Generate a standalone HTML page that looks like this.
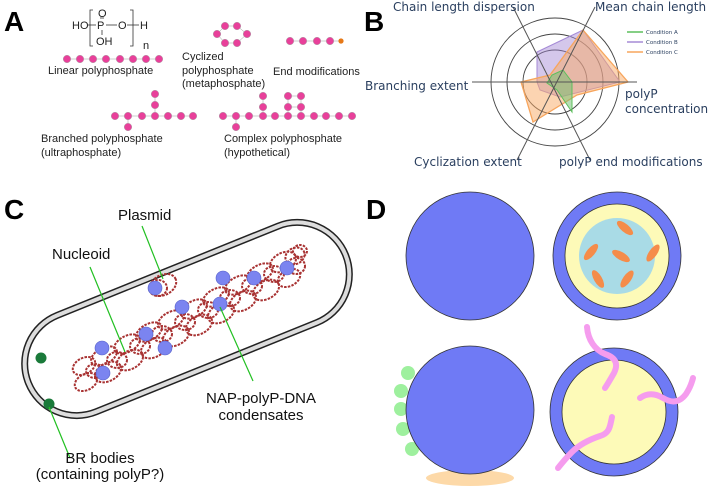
<!DOCTYPE html>
<html><head><meta charset="utf-8"><style>
html,body{margin:0;padding:0;background:#fff}
svg{display:block}
.lab{font-family:"Liberation Sans",Arial,sans-serif;font-weight:bold;font-size:28px;fill:#000}
.a{font-family:"Liberation Sans",Arial,sans-serif;font-size:11px;fill:#222}
.b{font-family:"DejaVu Sans",Verdana,sans-serif;font-size:12px;fill:#2a3f5f}
.c{font-family:"Liberation Sans",Arial,sans-serif;font-size:15px;fill:#111}
</style></head><body>
<svg width="709" height="488" viewBox="0 0 709 488" xmlns="http://www.w3.org/2000/svg">
<!-- Panel A -->
<text class="lab" x="4" y="31">A</text>
<text x="72" y="29" class="a">HO</text>
<text x="97" y="29" class="a">P</text>
<text x="98" y="17" class="a">O</text>
<text x="96" y="45" class="a">OH</text>
<text x="118" y="29" class="a">O</text>
<text x="140" y="29" class="a">H</text>
<text x="143" y="49" class="a">n</text>
<g stroke="#333" stroke-width="0.8" fill="none">
<line x1="87" y1="25" x2="96" y2="25"/><line x1="106" y1="25" x2="117" y2="25"/><line x1="127" y1="25" x2="139" y2="25"/>
<line x1="101" y1="19" x2="101" y2="16"/><line x1="103" y1="19" x2="103" y2="16"/>
<line x1="102" y1="30" x2="102" y2="35"/>
<path d="M93 10 H90 V46 H93"/><path d="M130 10 H133 V46 H130"/>
</g>
<g fill="#e8409a" stroke="#aaa" stroke-width="0.5">
<line x1="67" y1="59" x2="159" y2="59" stroke="#999"/>
<circle cx="67" cy="59" r="3.8"/><circle cx="80" cy="59" r="3.8"/><circle cx="93" cy="59" r="3.8"/><circle cx="106" cy="59" r="3.8"/><circle cx="120" cy="59" r="3.8"/><circle cx="133" cy="59" r="3.8"/><circle cx="146" cy="59" r="3.8"/><circle cx="159" cy="59" r="3.8"/>
<polygon points="225,26 237,26 247,34 237,43 225,43 217,34" fill="none" stroke="#999"/>
<circle cx="225" cy="26" r="3.8"/><circle cx="237" cy="26" r="3.8"/><circle cx="217" cy="34" r="3.8"/><circle cx="247" cy="34" r="3.8"/><circle cx="225" cy="43" r="3.8"/><circle cx="237" cy="43" r="3.8"/>
<line x1="290" y1="41" x2="341" y2="41" stroke="#999"/>
<circle cx="290" cy="41" r="3.8"/><circle cx="303" cy="41" r="3.8"/><circle cx="317" cy="41" r="3.8"/><circle cx="330" cy="41" r="3.8"/>
<circle cx="341" cy="41" r="2.6" fill="#e67817" stroke="none"/>
<line x1="115" y1="116" x2="192" y2="116" stroke="#999"/><line x1="155" y1="94" x2="155" y2="116" stroke="#999"/><line x1="128" y1="116" x2="128" y2="127" stroke="#999"/>
<circle cx="115" cy="116" r="3.8"/><circle cx="128" cy="116" r="3.8"/><circle cx="142" cy="116" r="3.8"/><circle cx="155" cy="116" r="3.8"/><circle cx="168" cy="116" r="3.8"/><circle cx="181" cy="116" r="3.8"/><circle cx="193" cy="116" r="3.8"/>
<circle cx="155" cy="105" r="3.8"/><circle cx="155" cy="94" r="3.8"/><circle cx="128" cy="127" r="3.8"/>
<line x1="223" y1="116" x2="352" y2="116" stroke="#999"/><line x1="263" y1="96" x2="263" y2="116" stroke="#999"/><line x1="236" y1="116" x2="236" y2="127" stroke="#999"/>
<rect x="288" y="96" width="13" height="11" fill="none" stroke="#999"/><line x1="288" y1="107" x2="288" y2="116" stroke="#999"/><line x1="301" y1="107" x2="301" y2="116" stroke="#999"/>
<circle cx="223" cy="116" r="3.8"/><circle cx="236" cy="116" r="3.8"/><circle cx="249" cy="116" r="3.8"/><circle cx="263" cy="116" r="3.8"/><circle cx="275" cy="116" r="3.8"/><circle cx="288" cy="116" r="3.8"/><circle cx="301" cy="116" r="3.8"/><circle cx="314" cy="116" r="3.8"/><circle cx="326" cy="116" r="3.8"/><circle cx="339" cy="116" r="3.8"/><circle cx="352" cy="116" r="3.8"/>
<circle cx="263" cy="107" r="3.8"/><circle cx="263" cy="96" r="3.8"/><circle cx="236" cy="127" r="3.8"/>
<circle cx="288" cy="107" r="3.8"/><circle cx="288" cy="96" r="3.8"/><circle cx="301" cy="107" r="3.8"/><circle cx="301" cy="96" r="3.8"/>
</g>
<text class="a" x="48" y="74">Linear polyphosphate</text>
<text class="a" x="182" y="60">Cyclized</text>
<text class="a" x="182" y="74">polyphosphate</text>
<text class="a" x="182" y="87">(metaphosphate)</text>
<text class="a" x="273" y="75">End modifications</text>
<text class="a" x="41" y="142">Branched polyphosphate</text>
<text class="a" x="41" y="156">(ultraphosphate)</text>
<text class="a" x="224" y="142">Complex polyphosphate</text>
<text class="a" x="224" y="156">(hypothetical)</text>

<!-- Panel B -->
<text class="lab" x="364" y="31">B</text>
<g fill="none" stroke="#444" stroke-width="0.9">
<circle cx="555" cy="82" r="32"/><circle cx="555" cy="82" r="48"/><circle cx="555" cy="82" r="64"/>
</g>
<polygon points="583,30 620,82 560,97 540,90 537,82 537,52" fill="rgba(160,130,210,0.45)" stroke="#a58ad6" stroke-width="1"/>
<polygon points="583,30 628,82 577,95 533,122 521,82 550,75" fill="rgba(250,170,100,0.5)" stroke="#f7a55c" stroke-width="1.3"/>
<polygon points="563,70 572,82 572,112 557,90 547,83 552,75" fill="rgba(110,190,110,0.5)" stroke="#5cbf5c" stroke-width="1"/>
<g stroke="#555" stroke-width="1">
<line x1="472" y1="82" x2="637" y2="82"/>
<line x1="513" y1="7" x2="590" y2="160"/>
<line x1="595" y1="7" x2="517" y2="160"/>
</g>
<g stroke-width="1.5">
<line x1="627" y1="32" x2="643" y2="32" stroke="#5cbf5c"/>
<line x1="627" y1="42" x2="643" y2="42" stroke="#a58ad6"/>
<line x1="627" y1="52" x2="643" y2="52" stroke="#f7a55c"/>
</g>
<g font-family="DejaVu Sans,sans-serif" font-size="5.5" fill="#2a3f5f">
<text x="646" y="34">Condition A</text><text x="646" y="44">Condition B</text><text x="646" y="54">Condition C</text>
</g>
<text class="b" x="393" y="11">Chain length dispersion</text>
<text class="b" x="595" y="11">Mean chain length</text>
<text class="b" x="365" y="90">Branching extent</text>
<text class="b" x="625" y="98">polyP</text>
<text class="b" x="625" y="113">concentration</text>
<text class="b" x="414" y="166">Cyclization extent</text>
<text class="b" x="559" y="166">polyP end modifications</text>

<!-- Panel C -->
<text class="lab" x="4" y="219">C</text>
<g transform="translate(187,319) rotate(-22)">
<rect x="-171" y="-52" width="342" height="104" rx="52" fill="none" stroke="#222" stroke-width="7"/>
<rect x="-171" y="-52" width="342" height="104" rx="52" fill="none" stroke="#ddd" stroke-width="4"/>
</g>
<g fill="none" stroke="#a83232" stroke-width="2" stroke-dasharray="2.5 1.2">
<ellipse cx="84" cy="366" rx="12" ry="8" transform="rotate(-28 84 366)"/>
<ellipse cx="86" cy="382" rx="12" ry="8" transform="rotate(-28 86 382)"/>
<ellipse cx="104" cy="356" rx="14" ry="8" transform="rotate(-28 104 356)"/>
<ellipse cx="108" cy="372" rx="14" ry="9" transform="rotate(-28 108 372)"/>
<ellipse cx="127" cy="344" rx="14" ry="8" transform="rotate(-28 127 344)"/>
<ellipse cx="130" cy="360" rx="14" ry="9" transform="rotate(-28 130 360)"/>
<ellipse cx="149" cy="332" rx="14" ry="8" transform="rotate(-28 149 332)"/>
<ellipse cx="154" cy="348" rx="14" ry="9" transform="rotate(-28 154 348)"/>
<ellipse cx="171" cy="320" rx="14" ry="8" transform="rotate(-28 171 320)"/>
<ellipse cx="176" cy="336" rx="14" ry="9" transform="rotate(-28 176 336)"/>
<ellipse cx="194" cy="309" rx="14" ry="8" transform="rotate(-28 194 309)"/>
<ellipse cx="199" cy="325" rx="14" ry="9" transform="rotate(-28 199 325)"/>
<ellipse cx="216" cy="297" rx="14" ry="8" transform="rotate(-28 216 297)"/>
<ellipse cx="221" cy="313" rx="14" ry="9" transform="rotate(-28 221 313)"/>
<ellipse cx="238" cy="285" rx="14" ry="8" transform="rotate(-28 238 285)"/>
<ellipse cx="243" cy="301" rx="14" ry="9" transform="rotate(-28 243 301)"/>
<ellipse cx="260" cy="273" rx="14" ry="8" transform="rotate(-28 260 273)"/>
<ellipse cx="266" cy="290" rx="14" ry="9" transform="rotate(-28 266 290)"/>
<ellipse cx="283" cy="262" rx="14" ry="9" transform="rotate(-28 283 262)"/>
<ellipse cx="289" cy="278" rx="12" ry="8" transform="rotate(-28 289 278)"/>
<ellipse cx="295" cy="256" rx="10" ry="8" transform="rotate(-28 295 256)"/>
<ellipse cx="163" cy="285" rx="14" ry="10" transform="rotate(-28 163 285)"/>
<ellipse cx="158" cy="288" rx="9" ry="8"/>
<ellipse cx="95" cy="371" rx="9" ry="7"/>
<ellipse cx="117" cy="360" rx="10" ry="8"/>
<ellipse cx="140" cy="346" rx="10" ry="8"/>
<ellipse cx="162" cy="334" rx="10" ry="8"/>
<ellipse cx="185" cy="322" rx="10" ry="8"/>
<ellipse cx="208" cy="310" rx="10" ry="8"/>
<ellipse cx="230" cy="298" rx="10" ry="8"/>
<ellipse cx="252" cy="286" rx="10" ry="8"/>
<ellipse cx="274" cy="274" rx="10" ry="8"/>
<ellipse cx="296" cy="266" rx="9" ry="8"/>
<ellipse cx="300" cy="251" rx="7" ry="6"/>
</g>
<g fill="#7b84f0" stroke="#5560c8" stroke-width="0.6">
<circle cx="102" cy="348" r="7"/><circle cx="103" cy="373" r="7"/><circle cx="146" cy="334" r="7"/><circle cx="165" cy="348" r="7"/><circle cx="182" cy="307" r="7"/><circle cx="220" cy="304" r="7"/><circle cx="223" cy="278" r="7"/><circle cx="254" cy="278" r="7"/><circle cx="287" cy="268" r="7"/><circle cx="155" cy="288" r="7"/>
</g>
<g fill="#1a7a3a"><circle cx="41" cy="358" r="5.5"/><circle cx="49" cy="404" r="5.5"/></g>
<g stroke="#22c022" stroke-width="1.2">
<line x1="142" y1="226" x2="163" y2="279"/>
<line x1="90" y1="267" x2="125" y2="352"/>
<line x1="220" y1="307" x2="253" y2="381"/>
<line x1="49" y1="407" x2="70" y2="458"/>
</g>
<text class="c" x="118" y="220">Plasmid</text>
<text class="c" x="52" y="259">Nucleoid</text>
<text class="c" x="261" y="403" text-anchor="middle">NAP-polyP-DNA</text>
<text class="c" x="261" y="420" text-anchor="middle">condensates</text>
<text class="c" x="100" y="463" text-anchor="middle">BR bodies</text>
<text class="c" x="100" y="479" text-anchor="middle">(containing polyP?)</text>

<!-- Panel D -->
<text class="lab" x="366" y="219">D</text>
<g stroke="#333" stroke-width="0.8">
<circle cx="470" cy="256" r="64" fill="#6f7af5"/>
<circle cx="617" cy="256" r="64" fill="#6f7af5"/>
<circle cx="617" cy="256" r="52" fill="#fdfab8"/>
</g>
<circle cx="617" cy="256" r="38" fill="#a9dbe6"/>
<g fill="#f58c4a">
<ellipse cx="625" cy="228" rx="10" ry="4" transform="rotate(40 625 228)"/>
<ellipse cx="591" cy="252" rx="10" ry="4" transform="rotate(-50 591 252)"/>
<ellipse cx="621" cy="256" rx="10" ry="4" transform="rotate(30 621 256)"/>
<ellipse cx="653" cy="253" rx="10" ry="4" transform="rotate(-55 653 253)"/>
<ellipse cx="598" cy="279" rx="10" ry="4" transform="rotate(60 598 279)"/>
<ellipse cx="627" cy="279" rx="10" ry="4" transform="rotate(-55 627 279)"/>
</g>
<g fill="#9ef09e">
<circle cx="408" cy="373" r="7"/><circle cx="401" cy="391" r="7"/><circle cx="401" cy="409" r="7"/><circle cx="403" cy="429" r="7"/><circle cx="412" cy="449" r="7"/>
</g>
<ellipse cx="470" cy="478" rx="44" ry="8" fill="#fdd9a8"/>
<g stroke="#333" stroke-width="0.8">
<circle cx="470" cy="410" r="64" fill="#6f7af5"/>
<circle cx="614" cy="412" r="64" fill="#6f7af5"/>
<circle cx="614" cy="412" r="52" fill="#fdfab8"/>
</g>
<g fill="none" stroke="#f59cee" stroke-width="6" stroke-linecap="round">
<path d="M587 327 C588 340 595 350 605 354 C617 358 618 365 614 373 C610 380 607 385 605 388"/>
<path d="M640 398 C647 393 655 393 663 398 C673 404 680 402 686 394 C690 388 692 382 693 378"/>
<path d="M612 417 C610 426 610 433 600 436 C588 440 578 446 572 452 C566 458 562 463 558 468"/>
</g>
</svg>
</body></html>
